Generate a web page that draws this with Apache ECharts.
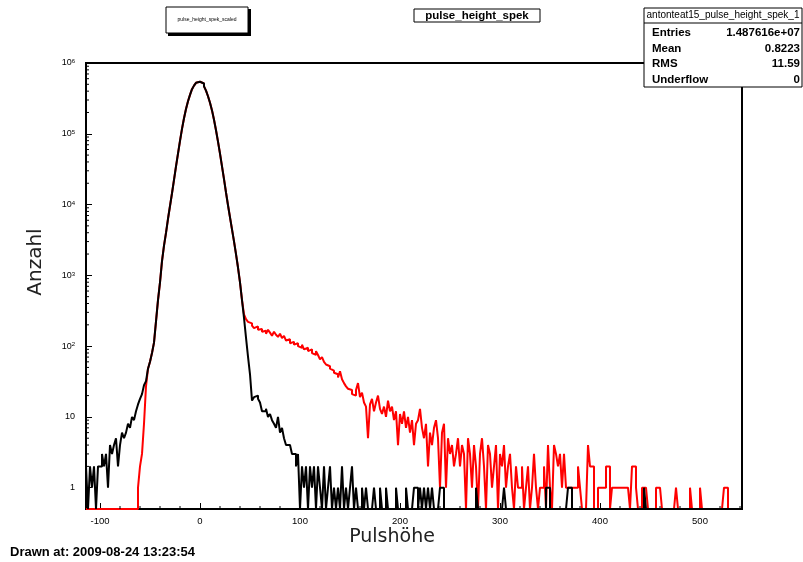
<!DOCTYPE html>
<html>
<head>
<meta charset="utf-8">
<script src="https://cdn.jsdelivr.net/npm/echarts@6/dist/echarts.min.js"></script>
<style>
  html, body { margin: 0; padding: 0; background: #fff; }
  #chart { width: 803px; height: 562px; }
</style>
</head>
<body>
<div id="chart"></div>
<script>
  // histogram bins: 2 units wide, from -114 up to 542
  const binStart = -114;
  const binWidth = 2;

  const blackCounts = [
    2, 0, 2, 1, 2, 0, 2, 2, 3, 2,
    3, 1, 4, 3, 4, 5, 2, 4, 6, 5,
    6, 8, 7, 10, 9, 12, 15, 18, 21, 28,
    32, 48, 60, 80, 112, 224, 447, 794, 1585, 2630,
    3980, 6300, 9550, 14450, 22400, 34700, 52500, 79400, 117500, 166000,
    224000, 288000, 355000, 427000, 479000, 525000, 543000, 537000, 513000, 468000,
    407000, 339000, 275000, 214000, 158000, 112000, 77600, 52500, 34700, 22900,
    14800, 9770, 6600, 4470, 3020, 2000, 1290, 794, 447, 250,
    132, 71, 40, 17, 19, 20, 18, 16, 12, 12,
    13, 10, 11, 9, 8, 7, 10, 6, 7, 5,
    4, 4, 4, 3, 3, 2, 3, 0, 2, 1,
    2, 0, 2, 1, 2, 0, 2, 1, 0, 2,
    0, 1, 2, 0, 1, 0, 1, 0, 2, 0,
    1, 0, 1, 2, 0, 1, 0, 0, 1, 0,
    1, 0, 0, 0, 1, 0, 0, 1, 0, 0,
    1, 0, 0, 0, 0, 1, 0, 0, 0, 0,
    1, 0, 0, 0, 1, 1, 0, 1, 0, 1,
    0, 1, 0, 1, 0, 0, 0, 1, 1, 0,
    0, 0, 0, 0, 0, 0, 0, 0, 0, 0,
    0, 0, 0, 0, 0, 1, 0, 0, 0, 0,
    0, 0, 0, 0, 0, 0, 0, 0, 0, 1,
    0, 0, 0, 0, 0, 0, 0, 0, 0, 0,
    0, 0, 0, 0, 0, 0, 0, 0, 0, 0,
    1, 1, 0, 0, 0, 0, 0, 0, 0, 0,
    0, 1, 1, 0, 0, 0, 0, 0, 0, 0,
    0, 0, 0, 0, 0, 0, 0, 0, 0, 0,
    0, 0, 0, 0, 0, 0, 0, 0, 0, 0,
    0, 0, 0, 0, 0, 0, 0, 0, 0, 1,
    0, 0, 0, 0, 0, 0, 0, 0, 0, 0,
    0, 0, 0, 0, 0, 0, 0, 0, 0, 0,
    0, 0, 0, 0, 0, 0, 0, 0, 0, 0,
    0, 0, 0, 0, 0, 0, 0, 0, 0, 0,
    0, 0, 0, 0, 0, 0, 0, 0
  ];

  const redCounts = [
    0, 0, 0, 0, 0, 0, 0, 0, 0, 0,
    0, 0, 0, 0, 0, 0, 0, 0, 0, 0,
    0, 0, 0, 0, 0, 0, 1, 2, 3, 8,
    27, 48, 60, 80, 112, 224, 447, 794, 1585, 2630,
    3980, 6300, 9550, 14450, 22400, 34700, 52500, 79400, 117500, 166000,
    224000, 288000, 355000, 427000, 479000, 525000, 543000, 537000, 513000, 468000,
    407000, 339000, 275000, 214000, 158000, 112000, 77600, 52500, 34700, 22900,
    14800, 9770, 6600, 4470, 3020, 2000, 1290, 794, 447, 280,
    240, 220, 210, 195, 180, 190, 170, 175, 160, 165,
    150, 170, 155, 140, 160, 145, 135, 150, 130, 140,
    120, 125, 110, 115, 105, 110, 100, 95, 105, 90,
    95, 85, 90, 80, 75, 85, 75, 65, 70, 60,
    55, 52, 48, 45, 42, 40, 36, 44, 34, 30,
    27, 25, 24, 21, 20, 24, 30, 19, 22, 16,
    14, 5, 15, 18, 12, 16, 20, 13, 11, 14,
    10, 17, 12, 14, 9, 12, 4, 11, 8, 12,
    7, 10, 6, 9, 4, 8, 9, 13, 7, 5,
    8, 2, 6, 4, 7, 9, 5, 1, 6, 8,
    1, 5, 3, 4, 2, 3, 5, 2, 4, 3,
    0, 5, 3, 1, 4, 2, 0, 3, 5, 2,
    0, 4, 3, 1, 2, 4, 0, 3, 2, 4,
    1, 2, 3, 1, 0, 2, 1, 1, 2, 0,
    1, 2, 0, 1, 3, 1, 0, 1, 1, 2,
    0, 4, 1, 0, 4, 3, 2, 3, 1, 3,
    1, 1, 1, 1, 1, 1, 2, 1, 0, 0,
    0, 4, 2, 2, 0, 0, 1, 1, 1, 1,
    2, 2, 0, 1, 1, 1, 1, 1, 1, 1,
    1, 1, 0, 2, 2, 1, 0, 0, 1, 1,
    1, 0, 0, 0, 0, 1, 1, 1, 0, 0,
    0, 0, 0, 0, 0, 1, 0, 0, 0, 0,
    0, 0, 1, 0, 0, 0, 0, 1, 0, 0,
    0, 0, 0, 0, 0, 0, 0, 0, 0, 1,
    1, 0, 0, 0, 0, 0, 0, 0
  ];

  const xMin = -114, xMax = 542;
  const yMin = 0.5, yMax = 1e6;
  const xMajorTicks = [-100, 0, 100, 200, 300, 400, 500];
  const yDecades = [1, 10, 100, 1000, 10000, 100000, 1000000];
  const statsName = 'antonteat15_pulse_height_spek_1';
  const statsRows = [
    ['Entries', '1.487616e+07'],
    ['Mean', '0.8223'],
    ['RMS', '11.59'],
    ['Underflow', '0']
  ];

  // outline of a histogram: point at each bin's left edge + closing point
  function stepPoints(counts) {
    const pts = counts.map((c, i) => [binStart + i * binWidth, c > 0 ? c : yMin]);
    pts.push([binStart + counts.length * binWidth, pts[pts.length - 1][1]]);
    return pts;
  }

  // minor ticks like ROOT: every 20 on x, 2..9 per decade on y
  const xMinor = [];
  for (let v = -100; v <= xMax; v += 20) {
    if (v % 100 !== 0) xMinor.push([v, yMin]);
  }
  const yMinor = [];
  [0.1].concat(yDecades).forEach(d => {
    for (let k = 2; k <= 9; k++) {
      const v = k * d;
      if (v > yMin && v < yMax) yMinor.push([xMin, v]);
    }
  });

  function tickSeries(data, dx, dy) {
    return {
      type: 'custom',
      silent: true,
      clip: false,
      data: data,
      renderItem: (params, api) => {
        const p = api.coord([api.value(0), api.value(1)]);
        return {
          type: 'line',
          shape: { x1: p[0], y1: p[1], x2: p[0] + dx, y2: p[1] + dy },
          style: { stroke: '#000', lineWidth: 1 }
        };
      },
      z: 5
    };
  }

  function yLabel(v) {
    const e = Math.log10(v);
    const r = Math.round(e);
    if (Math.abs(e - r) > 1e-6) return '';
    if (r === 0) return '1';
    if (r === 1) return '10';
    return '10{sup|' + r + '}';
  }

  const font = 'Liberation Sans, Arial, sans-serif';

  const statsEls = [
    { type: 'rect', shape: { x: 644, y: 8, width: 158, height: 79 },
      style: { fill: '#fff', stroke: '#000', lineWidth: 1 } },
    { type: 'line', shape: { x1: 644, y1: 23, x2: 802, y2: 23 },
      style: { stroke: '#000', lineWidth: 1 } },
    { type: 'text', x: 723, y: 15,
      style: { text: statsName, font: '10px ' + font, fill: '#000', align: 'center', verticalAlign: 'middle' } }
  ];
  statsRows.forEach((r, i) => {
    const y = 33 + i * 15.5;
    statsEls.push({ type: 'text', x: 652, y: y,
      style: { text: r[0], font: 'bold 11.5px ' + font, fill: '#000', verticalAlign: 'middle' } });
    statsEls.push({ type: 'text', x: 800, y: y,
      style: { text: r[1], font: 'bold 11.5px ' + font, fill: '#000', align: 'right', verticalAlign: 'middle' } });
  });

  let myChart = echarts.init(document.getElementById('chart'));
  let option = {
    animation: false,
    backgroundColor: '#fff',
    grid: {
      left: 86, top: 63, width: 656, height: 446,
      show: true, borderColor: '#000', borderWidth: 2
    },
    xAxis: {
      type: 'value',
      min: xMin,
      max: xMax,
      splitLine: { show: false },
      axisLine: { onZero: false, lineStyle: { color: '#000', width: 2 } },
      axisTick: { inside: true, length: 6, lineStyle: { color: '#000' } },
      axisLabel: {
        margin: 7,
        color: '#000',
        fontSize: 9.5,
        fontFamily: font,
        formatter: v => (xMajorTicks.indexOf(v) >= 0 ? String(v) : '')
      }
    },
    yAxis: {
      type: 'log',
      min: yMin,
      max: yMax,
      logBase: 10,
      splitLine: { show: false },
      axisLine: { onZero: false, lineStyle: { color: '#000', width: 2 } },
      axisTick: { inside: true, length: 6, lineStyle: { color: '#000' } },
      axisLabel: {
        margin: 11,
        color: '#000',
        fontSize: 9,
        fontFamily: font,
        formatter: yLabel,
        rich: {
          sup: { fontSize: 6, lineHeight: 6, verticalAlign: 'top', fontFamily: font, color: '#000' }
        }
      }
    },
    series: [
      {
        name: 'pulse_height_spek_scaled',
        type: 'line',
        step: 'end',
        showSymbol: false,
        data: stepPoints(redCounts),
        lineStyle: { color: '#ff0000', width: 2 },
        z: 2
      },
      {
        name: 'pulse_height_spek',
        type: 'line',
        step: 'end',
        showSymbol: false,
        data: stepPoints(blackCounts),
        lineStyle: { color: '#000000', width: 2 },
        z: 3
      },
      tickSeries(xMinor, 0, -3),
      tickSeries(yMinor, 3, 0)
    ],
    graphic: [
      // small legend box with shadow
      { type: 'rect', shape: { x: 168, y: 9, width: 83, height: 27 }, style: { fill: '#000' }, z: 100 },
      { type: 'rect', shape: { x: 166, y: 7, width: 82, height: 26 },
        style: { fill: '#fff', stroke: '#000', lineWidth: 1 }, z: 101 },
      { type: 'text', x: 207, y: 20, z: 102,
        style: { text: 'pulse_height_spek_scaled', font: '5px ' + font, fill: '#000', align: 'center', verticalAlign: 'middle' } },
      // histogram title
      { type: 'rect', shape: { x: 414, y: 9, width: 126, height: 13 },
        style: { fill: '#fff', stroke: '#000', lineWidth: 1 }, z: 100 },
      { type: 'text', x: 477, y: 15.5, z: 101,
        style: { text: 'pulse_height_spek', font: 'bold 11.5px ' + font, fill: '#000', align: 'center', verticalAlign: 'middle' } },
      // stats box
      { type: 'group', z: 100, children: statsEls },
      // axis titles
      { type: 'text', x: 36, y: 262, rotation: Math.PI / 2, z: 100,
        style: { text: 'Anzahl', font: '20px DejaVu Sans, sans-serif', fill: '#222', align: 'center', verticalAlign: 'middle' } },
      { type: 'text', x: 392, y: 537, z: 100,
        style: { text: 'Pulshöhe', font: '19px DejaVu Sans, sans-serif', fill: '#222', align: 'center', verticalAlign: 'middle' } },
      { type: 'text', x: 10, y: 552, z: 100,
        style: { text: 'Drawn at: 2009-08-24 13:23:54', font: 'bold 13px ' + font, fill: '#000', verticalAlign: 'middle' } }
    ]
  };
  myChart.setOption(option);
</script>
</body>
</html>
